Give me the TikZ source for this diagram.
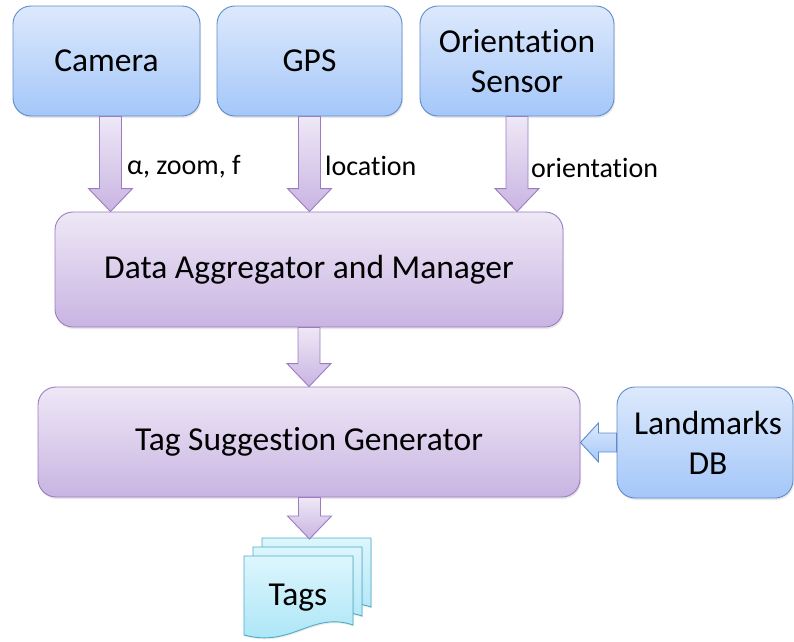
\documentclass[tikz,border=0pt]{standalone}
\usepackage{fontspec}
\setmainfont{Carlito}[Ligatures={TeX,NoCommon}]
\usetikzlibrary{calc,shadows}
\definecolor{bluetop}{HTML}{DDE9FC}
\definecolor{bluebot}{HTML}{A4C7F9}
\definecolor{blueline}{HTML}{5F8BCB}
\definecolor{purptop}{HTML}{EEE8F6}
\definecolor{purpbot}{HTML}{C9B4E2}
\definecolor{purpline}{HTML}{9B7CC0}
\definecolor{cyantop}{HTML}{DDF6FD}
\definecolor{cyanbot}{HTML}{A8E4F6}
\definecolor{cyanline}{HTML}{4BACC6}
\tikzset{
  box/.style={rectangle, rounded corners=18pt, draw=#1line, top color=#1top,
    bottom color=#1bot, line width=0.9pt, font=\fontsize{33.5}{40}\selectfont,
    align=center, inner sep=0pt,
    drop shadow={opacity=0.18, shadow xshift=1pt, shadow yshift=-2pt}},
  blockarrow/.style={draw=#1line, top color=#1top, bottom color=#1bot, line width=0.9pt},
  sheet/.style={draw=cyanline, top color=cyantop, bottom color=cyanbot, line width=0.9pt},
  lbl/.style={anchor=west, inner sep=0pt, font=\fontsize{28}{30}\selectfont},
}
\newcommand\arrowdn[3][purp]{%
  \path[blockarrow=#1] let \p1=(#2), \p2=(#3) in
    (\x1-11pt,\y1) -- (\x1+11pt,\y1) -- (\x1+11pt,\y2+23pt) -- (\x1+22pt,\y2+23pt)
    -- (\x1,\y2) -- (\x1-22pt,\y2+23pt) -- (\x1-11pt,\y2+23pt) -- cycle;}
\newcommand\arrowlf[3][blue]{%
  \path[blockarrow=#1] let \p1=(#2), \p2=(#3) in
    (\x1,\y1+9.5pt) -- (\x2+18pt,\y1+9.5pt) -- (\x2+18pt,\y1+19.5pt) -- (\x2,\y1)
    -- (\x2+18pt,\y1-19.5pt) -- (\x2+18pt,\y1-9.5pt) -- (\x1,\y1-9.5pt) -- cycle;}
\begin{document}
\begin{tikzpicture}[x=1pt,y=-1pt]
\useasboundingbox (0,0) rectangle (794,641);
% top sensors
\node[box=blue, minimum width=187pt, minimum height=110pt] (cam) at (106.5,61) {Camera};
\node[box=blue, minimum width=185pt, minimum height=110pt] (gps) at (309.5,61) {GPS};
\node[box=blue, minimum width=194pt, minimum height=110pt] (ori) at (517,61) {Orientation\\Sensor};
% aggregator and generator
\node[box=purp, minimum width=508pt, minimum height=115pt] (dam) at (309,269.5) {Data Aggregator and Manager};
\node[box=purp, minimum width=542pt, minimum height=110pt] (tsg) at (309,442) {Tag Suggestion Generator};
\node[box=blue, minimum width=176pt, minimum height=111pt] (lm) at (705,442.5) {\hspace*{6pt}Landmarks\\\hspace*{6pt}DB};
% arrows
\arrowdn{$(cam.south)+(4,0)$}{dam.north}
\arrowdn{gps.south}{dam.north}
\arrowdn{ori.south}{dam.north}
\arrowdn{dam.south}{tsg.north}
\arrowlf{lm.west}{tsg.east}
% labels
\node[lbl] (l1) at (127,167) {α, zoom, f};
\node[lbl] (l2) at (325,166) {location};
\node[lbl] (l3) at (531,168) {orientation};
% tags stack
\coordinate (tagtop) at (309.5,539);
\foreach \d in {18,9,0}{
  \path[sheet, drop shadow={opacity=0.15, shadow xshift=1pt, shadow yshift=-1.5pt}]
    (244+\d,556-\d) -- (353+\d,556-\d) -- (353+\d,625-\d)
    .. controls (312+\d,611-\d) and (292+\d,648-\d) .. (244+\d,635-\d) -- cycle;
}
\arrowdn{$(tsg.south)+(0.5,0)$}{tagtop}
\node[inner sep=0pt, font=\fontsize{33.5}{40}\selectfont] (tags) at (298,598) {Tags};
\end{tikzpicture}
\end{document}
